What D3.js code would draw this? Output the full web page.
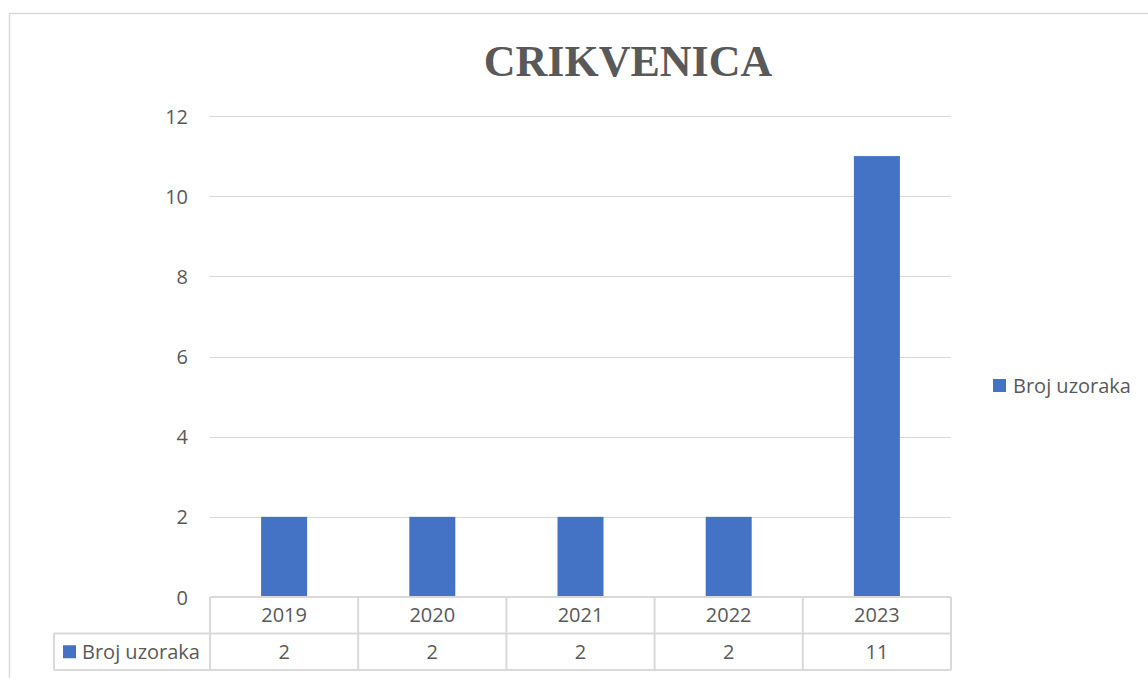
<!DOCTYPE html>
<html><head><meta charset="utf-8">
<script src="https://cdn.jsdelivr.net/npm/d3@7"></script>
<style>html,body{margin:0;padding:0;background:#fff;}svg{display:block;}</style>
</head><body>
<svg id="chart" width="1148" height="678"></svg>
<script>
const title = "CRIKVENICA";
const seriesName = "Broj uzoraka";
const categories = ["2019", "2020", "2021", "2022", "2023"];
const values = [2, 2, 2, 2, 11];
const yTicks = [0, 2, 4, 6, 8, 10, 12];

const svg = d3.select("#chart");
const font = "'Open Sans', 'Noto Sans', sans-serif";
const fs = 20;
const grey = "#595959", line = "#d9d9d9", blue = "#4472c4";
const L = 210, R = 951, T = 116, B = 597;
const rowH = 36.5;

// outer border
svg.append("path").attr("d", "M9.5,678V13.5H1148").attr("fill", "none").attr("stroke", line).attr("stroke-width", 1.5);

const x = d3.scaleBand().domain(categories).range([L, R]).paddingInner(0).paddingOuter(0);
const y = d3.scaleLinear().domain([0, 12]).range([B, T]);

// gridlines
svg.append("g").selectAll("line").data(yTicks.filter(d => d > 0)).join("line")
  .attr("x1", L).attr("x2", R).attr("y1", d => Math.round(y(d)) + 0.5).attr("y2", d => Math.round(y(d)) + 0.5)
  .attr("stroke", line).attr("stroke-width", 1.2);

// y axis labels
const yAxis = d3.axisLeft(y).tickValues(yTicks).tickSize(0).tickPadding(0);
const gy = svg.append("g").attr("transform", `translate(${L - 22},0)`).call(yAxis);
gy.select(".domain").remove();
gy.selectAll("text").attr("font-family", font).attr("font-size", fs).attr("fill", grey).attr("dy", "0.35em");

// bars
const bw = 46;
svg.append("g").selectAll("rect").data(values).join("rect")
  .attr("x", (d, i) => x(categories[i]) + x.bandwidth() / 2 - bw / 2)
  .attr("y", d => y(d)).attr("width", bw).attr("height", d => y(0) - y(d))
  .attr("fill", blue);

// data table
const tbl = svg.append("g").attr("stroke", line).attr("stroke-width", 2).attr("fill", "none");
tbl.append("line").attr("x1", L).attr("x2", R).attr("y1", B).attr("y2", B);
tbl.append("line").attr("x1", 54).attr("x2", R).attr("y1", B + rowH).attr("y2", B + rowH);
tbl.append("line").attr("x1", 54).attr("x2", R).attr("y1", B + 2 * rowH).attr("y2", B + 2 * rowH);
tbl.append("line").attr("x1", 54).attr("x2", 54).attr("y1", B + rowH).attr("y2", B + 2 * rowH);
const bounds = categories.map(c => x(c)).concat([R]);
tbl.selectAll(".v").data(bounds).join("line").attr("class", "v")
  .attr("x1", d => d).attr("x2", d => d).attr("y1", B).attr("y2", B + 2 * rowH);

const xt = svg.append("g");
xt.selectAll(".cat").data(categories).join("text").attr("class", "cat")
  .attr("x", d => x(d) + x.bandwidth() / 2).attr("y", B + rowH / 2).attr("dy", "0.35em")
  .attr("text-anchor", "middle").attr("font-family", font).attr("font-size", fs).attr("fill", grey).text(d => d);
xt.selectAll(".val").data(values).join("text").attr("class", "val")
  .attr("x", (d, i) => x(categories[i]) + x.bandwidth() / 2).attr("y", B + rowH * 1.5).attr("dy", "0.35em")
  .attr("text-anchor", "middle").attr("font-family", font).attr("font-size", fs).attr("fill", grey).text(d => d);
svg.append("rect").attr("x", 63).attr("y", B + rowH * 1.5 - 6.5).attr("width", 13).attr("height", 13).attr("fill", blue);
svg.append("text").attr("x", 82).attr("y", B + rowH * 1.5).attr("dy", "0.35em")
  .attr("font-family", font).attr("font-size", fs).attr("fill", grey).text(seriesName);

// legend
svg.append("rect").attr("x", 993).attr("y", 379).attr("width", 13).attr("height", 13).attr("fill", blue);
svg.append("text").attr("x", 1013).attr("y", 385.5).attr("dy", "0.35em")
  .attr("font-family", font).attr("font-size", fs).attr("fill", grey).text(seriesName);

// title
svg.append("text").attr("x", 628).attr("y", 76).attr("text-anchor", "middle")
  .attr("font-family", "'Liberation Serif', 'Times New Roman', serif").attr("font-weight", "bold")
  .attr("font-size", 44).attr("fill", grey).text(title);
</script>
</body></html>
